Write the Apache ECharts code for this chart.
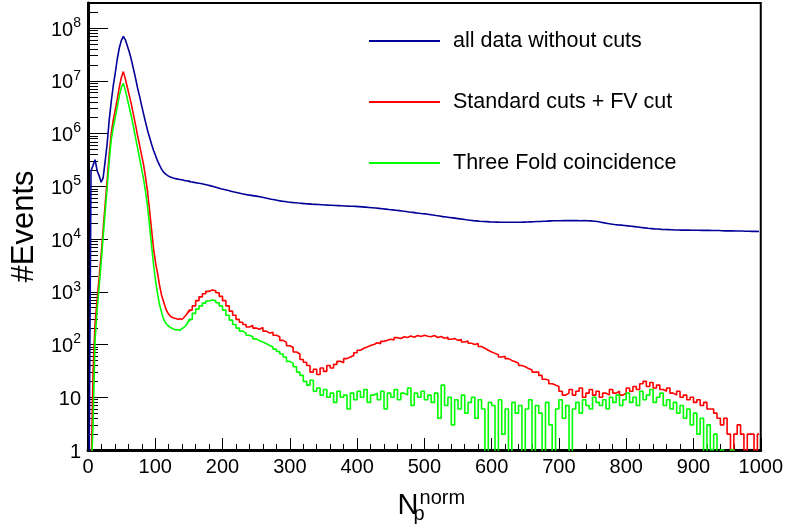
<!DOCTYPE html>
<html>
<head>
<meta charset="utf-8">
<script src="https://cdn.jsdelivr.net/npm/echarts@6/dist/echarts.min.js"></script>
<style>
  html, body { margin: 0; padding: 0; background: #fff; }
  #chart { width: 786px; height: 529px; }
</style>
</head>
<body>
<div id="chart"></div>
<script>
// histogram binning: 3-wide bins up to 150, 5-wide bins up to 1000
const fineBinWidth = 3, fineBinCount = 50
const coarseBinWidth = 5, coarseBinCount = 170

// all data without cuts
const blueCounts = [
  0, 200000, 250000, 320000, 200000, 160000, 120000, 145000, 300000, 650000,
  1800000, 4000000, 8000000, 14000000, 26000000, 42000000, 58000000, 70000000, 60000000, 46000000,
  35000000, 25000000, 17000000, 11500000, 7500000, 5200000, 3500000, 2400000, 1650000, 1150000,
  850000, 630000, 480000, 380000, 300000, 250000, 210000, 185000, 170000, 160000,
  152000, 147000, 143000, 140000, 137000, 135000, 133000, 130000, 128000, 126000,
  // 150 - 1000
  122000, 119000, 116000, 113000, 110000, 106000, 102000, 98000, 94000, 90000,
  87000, 84000, 81000, 78000, 75500, 73000, 71000, 69000, 67500, 66000,
  64500, 63000, 61000, 59000, 57000, 55500, 54000, 52500, 51500, 50500,
  49600, 48900, 48200, 47600, 47000, 46500, 46000, 45600, 45200, 44800,
  44400, 44000, 43700, 43400, 43100, 42800, 42500, 42200, 42000, 41700,
  41300, 40800, 40300, 39800, 39300, 38800, 38200, 37600, 37000, 36300,
  35800, 35300, 34700, 34000, 33400, 32700, 32100, 31400, 30800, 30300,
  30000, 29300, 28600, 27900, 27300, 26700, 26200, 25700, 25200, 24700,
  24200, 23700, 23200, 22800, 22400, 22100, 21800, 21600, 21400, 21200,
  21100, 21000, 20900, 20900, 20800, 20900, 20800, 20900, 20900, 21000,
  21100, 21200, 21300, 21500, 21600, 21800, 21900, 22100, 22200, 22300,
  22300, 22400, 22400, 22500, 22400, 22400, 22300, 22400, 22300, 22100,
  21800, 21500, 20900, 20300, 19800, 19300, 18900, 18600, 18400, 18100,
  17800, 17500, 17200, 16900, 16600, 16300, 16000, 15800, 15600, 15500,
  15300, 15200, 15100, 15000, 14900, 14900, 14800, 14800, 14800, 14700,
  14700, 14700, 14600, 14600, 14600, 14500, 14500, 14500, 14400, 14300,
  14300, 14300, 14200, 14200, 14200, 14100, 14100, 14000, 14000, 13900
]

// Standard cuts + FV cut
const redCounts = [
  0, 0, 30, 250, 700, 1800, 5000, 15000, 45000, 130000,
  400000, 1000000, 1800000, 2800000, 4500000, 7500000, 11500000, 15000000, 11000000, 7500000,
  5200000, 3600000, 2300000, 1500000, 950000, 620000, 400000, 260000, 150000, 80000,
  35000, 15000, 6500, 3500, 2200, 1300, 850, 640, 480, 400,
  355, 330, 318, 312, 300, 310, 298, 325, 360, 405,
  // 150 - 1000
  450, 540, 680, 800, 920, 1020, 1080, 1050, 960, 820,
  680, 540, 430, 360, 300, 265, 240, 215, 230, 205,
  195, 210, 180, 165, 170, 150, 140, 120, 110, 95,
  88, 72, 66, 52, 46, 40, 30, 34, 27, 36,
  31, 40, 36, 42, 48, 45, 54, 58, 62, 70,
  78, 85, 90, 96, 100, 108, 104, 115, 120, 126,
  122, 135, 130, 140, 136, 145, 138, 148, 142, 150,
  144, 140, 148, 136, 142, 132, 138, 126, 130, 120,
  124, 112, 116, 106, 100, 104, 92, 85, 78, 72,
  68, 64, 58, 60, 54, 50, 47, 44, 40, 38,
  35, 33, 30, 30, 26, 22, 21, 18, 17, 16,
  13, 11, 12, 14, 11, 13, 15, 10, 12, 14,
  11, 13, 10, 12, 11, 14, 12, 13, 11, 12,
  15, 13, 16, 14, 18, 20, 16, 19, 15, 17,
  14, 13, 15, 12, 11, 13, 10, 11, 9, 10,
  8, 9, 7, 8, 6, 6, 5, 4, 3, 4,
  2, 1, 2, 3, 2, 1, 2, 2, 1, 2
]

// Three Fold coincidence
const greenCounts = [
  0, 0, 3, 120, 450, 1200, 3500, 11000, 33000, 95000,
  300000, 750000, 1300000, 2000000, 3200000, 5200000, 7500000, 9000000, 6600000, 4500000,
  3100000, 2100000, 1350000, 860000, 550000, 350000, 220000, 140000, 80000, 42000,
  18000, 7500, 3200, 1600, 900, 560, 400, 300, 255, 230,
  215, 205, 195, 190, 192, 185, 200, 210, 230, 265,
  // 150 - 1000
  300, 390, 470, 540, 610, 670, 700, 680, 620, 540,
  450, 360, 290, 240, 205, 180, 165, 150, 140, 128,
  118, 112, 104, 96, 90, 82, 74, 66, 58, 48,
  44, 38, 30, 26, 20, 17, 21, 13, 15, 11,
  14, 10, 12, 8, 13, 10, 11, 6, 12, 9,
  13, 10, 14, 8, 11, 12, 9, 13, 6, 12,
  10, 14, 9, 12, 11, 15, 7, 12, 10, 13,
  9, 11, 8, 12, 4, 17, 7, 10, 3, 9,
  6, 11, 5, 8, 10, 4, 9, 6, 0, 8,
  7, 0, 9, 2, 6, 0, 8, 5, 7, 0,
  6, 9, 0, 7, 5, 0, 8, 3, 0, 6,
  9, 4, 7, 0, 6, 8, 5, 9, 7, 6,
  10, 8, 7, 9, 6, 10, 8, 11, 7, 9,
  12, 8, 10, 7, 13, 9, 11, 14, 8, 10,
  12, 7, 9, 6, 8, 5, 7, 4, 6, 3,
  5, 2, 4, 0, 3, 1, 2, 0, 1, 0,
  0, 1, 0, 0, 0, 0, 0, 0, 0, 0
]

const seriesNames = ['all data without cuts', 'Standard cuts + FV cut', 'Three Fold coincidence']
const seriesColors = ['#000099', '#ff0000', '#00ff00']
const seriesCounts = [blueCounts, redCounts, greenCounts]

// bin centres
const binCenters = []
for (let i = 0; i < fineBinCount; i++) binCenters.push((i + 0.5) * fineBinWidth)
for (let i = 0; i < coarseBinCount; i++) binCenters.push(fineBinCount * fineBinWidth + (i + 0.5) * coarseBinWidth)

// empty bins are drawn down to the bottom of the frame, like ROOT does
function toPoints(counts) {
  return counts.map((c, i) => [binCenters[i], c > 0 ? c : 0.3])
}

const font = '"Liberation Sans", Arial, sans-serif'

// the steep peak region is drawn as a plain line, the rest as histogram steps
const series = []
seriesNames.forEach((name, k) => {
  const pts = toPoints(seriesCounts[k])
  const base = {
    name: name,
    type: 'line',
    showSymbol: false,
    symbol: 'none',
    clip: true,
    z: 2 + k,
    color: seriesColors[k],
    lineStyle: { color: seriesColors[k], width: 1.6 }
  }
  series.push(Object.assign({}, base, { data: pts.slice(0, fineBinCount + 1) }))
  series.push(Object.assign({}, base, { step: 'middle', data: pts.slice(fineBinCount - 1) }))
})

const chart = echarts.init(document.getElementById('chart'))
const option = {
  animation: false,
  backgroundColor: '#fff',
  textStyle: { fontFamily: font, color: '#000' },
  grid: {
    left: 88, right: 20, top: 3, bottom: 62,
    show: true, borderColor: '#000', borderWidth: 2
  },
  legend: {
    orient: 'vertical',
    left: 369,
    top: 30,
    padding: 0,
    icon: 'rect',
    itemWidth: 71,
    itemHeight: 2,
    itemGap: 39,
    data: seriesNames,
    textStyle: { fontFamily: font, fontSize: 21.5, color: '#000', padding: [0, 0, 0, 8] }
  },
  xAxis: {
    type: 'value',
    min: 0,
    max: 1000,
    interval: 100,
    name: '{N|N}{p|p}{n|norm}',
    nameLocation: 'middle',
    nameGap: 38,
    nameTextStyle: {
      rich: {
        N: { fontFamily: font, fontSize: 29, lineHeight: 36, verticalAlign: 'middle', padding: [0, 0, 0, 14] },
        p: { fontFamily: font, fontSize: 20, width: 1, verticalAlign: 'bottom', padding: [14, 0, 0, 0] },
        n: { fontFamily: font, fontSize: 20, verticalAlign: 'top', padding: [0, 0, 14, 0] }
      }
    },
    axisLine: { lineStyle: { color: '#000', width: 3 } },
    axisTick: { inside: true, length: 12, lineStyle: { color: '#000' } },
    minorTick: { show: true, splitNumber: 5, length: 6, lineStyle: { color: '#000' } },
    splitLine: { show: false },
    axisLabel: {
      fontFamily: font, fontSize: 20, color: '#000', margin: 7,
      formatter: v => String(v)
    }
  },
  yAxis: {
    type: 'log',
    logBase: 10,
    min: 1,
    max: 3e8,
    name: '#Events',
    nameLocation: 'middle',
    nameRotate: 90,
    nameGap: 40,
    nameTextStyle: { fontFamily: font, fontSize: 31, color: '#000' },
    axisLine: { lineStyle: { color: '#000', width: 3 } },
    axisTick: { inside: true, length: 20, lineStyle: { color: '#000' } },
    minorTick: { show: true, splitNumber: 9, length: 10, lineStyle: { color: '#000' } },
    splitLine: { show: false },
    axisLabel: {
      margin: 7,
      formatter: function (v) {
        const n = Math.round(Math.log10(v))
        if (Math.abs(Math.pow(10, n) - v) / v > 1e-6) return ''
        if (n === 0) return '{b|1}'
        if (n === 1) return '{b|10}'
        return '{b|10}{e|' + n + '}'
      },
      rich: {
        b: { fontFamily: font, fontSize: 20, color: '#000', verticalAlign: 'bottom', lineHeight: 24 },
        e: { fontFamily: font, fontSize: 14, color: '#000', verticalAlign: 'top', lineHeight: 14 }
      }
    }
  },
  series: series
}
chart.setOption(option)
</script>
</body>
</html>
